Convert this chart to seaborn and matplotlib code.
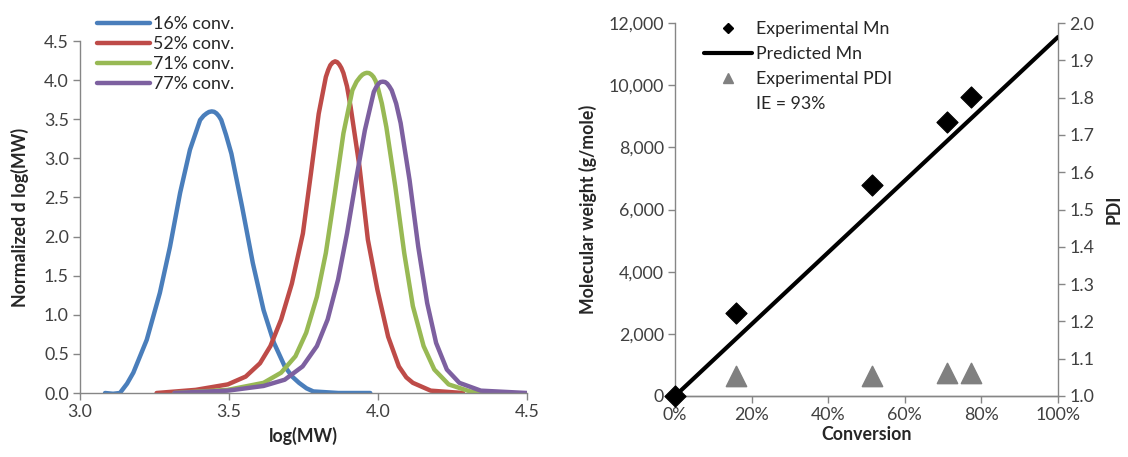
import seaborn as sns
import matplotlib.pyplot as plt
import pandas as pd
from matplotlib.ticker import MultipleLocator, PercentFormatter, FuncFormatter
from matplotlib.lines import Line2D

# GPC traces, values
blue_x = [3.084, 3.111, 3.134, 3.158, 3.179, 3.224, 3.268, 3.302, 3.336, 3.369, 3.403, 3.415, 3.425,
          3.433, 3.442, 3.450, 3.458, 3.466, 3.474, 3.490, 3.508, 3.544, 3.580, 3.616, 3.651,
          3.687, 3.712, 3.735, 3.760, 3.783, 3.867, 3.974]
blue_y = [0.0, -0.01, 0.0, 0.12, 0.26, 0.68, 1.28, 1.87, 2.56, 3.11, 3.49, 3.545, 3.575,
          3.593, 3.60, 3.595, 3.575, 3.54, 3.49, 3.30, 3.06, 2.38, 1.66, 1.06, 0.64,
          0.34, 0.21, 0.13, 0.06, 0.02, 0.0, 0.0]

red_x = [3.257, 3.388, 3.496, 3.556, 3.604, 3.639, 3.675, 3.711, 3.748, 3.775, 3.801, 3.825, 3.833,
         3.840, 3.848, 3.856, 3.863, 3.870, 3.877, 3.884, 3.896, 3.908, 3.938, 3.966, 3.998,
         4.034, 4.070, 4.095, 4.117, 4.177, 4.285]
red_y = [0.0, 0.04, 0.11, 0.21, 0.38, 0.60, 0.94, 1.40, 2.04, 2.81, 3.57, 4.04, 4.13,
         4.19, 4.225, 4.24, 4.23, 4.20, 4.155, 4.09, 3.92, 3.66, 2.89, 1.96, 1.32,
         0.72, 0.34, 0.20, 0.13, 0.03, 0.0]

green_x = [3.317, 3.496, 3.616, 3.675, 3.723, 3.759, 3.795, 3.825, 3.855, 3.884, 3.914, 3.928, 3.940,
           3.948, 3.955, 3.962, 3.970, 3.978, 3.985, 3.992, 3.999, 4.013, 4.028, 4.058, 4.088,
           4.117, 4.153, 4.189, 4.237, 4.309, 4.404]
green_y = [0.0, 0.04, 0.13, 0.26, 0.47, 0.77, 1.23, 1.79, 2.55, 3.32, 3.87, 3.98, 4.04,
           4.07, 4.085, 4.093, 4.09, 4.07, 4.04, 3.99, 3.91, 3.70, 3.40, 2.64, 1.79,
           1.11, 0.60, 0.30, 0.11, 0.02, 0.0]

purple_x = [3.317, 3.496, 3.616, 3.687, 3.747, 3.795, 3.831, 3.866, 3.896, 3.926, 3.956, 3.986, 3.994,
            4.001, 4.008, 4.016, 4.024, 4.031, 4.038, 4.046, 4.061, 4.076, 4.106, 4.135, 4.165,
            4.195, 4.231, 4.273, 4.345, 4.500]
purple_y = [0.0, 0.03, 0.09, 0.17, 0.34, 0.60, 0.94, 1.45, 2.04, 2.72, 3.36, 3.85, 3.91,
            3.95, 3.975, 3.98, 3.975, 3.955, 3.92, 3.87, 3.70, 3.45, 2.72, 1.87, 1.15,
            0.64, 0.30, 0.13, 0.03, 0.0]

trace_labels = ["16% conv.", "52% conv.", "71% conv.", "77% conv."]
trace_colors = ["#4A7EBB", "#BE4B48", "#98B954", "#7D60A0"]

# Mn / PDI vs conversion
conv_mn = [0.0, 0.16, 0.515, 0.71, 0.772]
mn_exp = [0, 2680, 6800, 8800, 9620]
conv_pred = [0.0, 1.0]
mn_pred = [0, 11550]
conv_pdi = [0.16, 0.515, 0.71, 0.772]
pdi_exp = [1.053, 1.053, 1.062, 1.062]

sns.set_style("white")
plt.rcParams['font.family'] = ['Lato', 'DejaVu Sans']

FS = 12.8
tick_col = "#404040"
spine_col = "#868686"

fig = plt.figure(figsize=(11.28, 4.57), dpi=100)

# ---- left panel: distributions
ax1 = fig.add_axes([80 / 1128, 64 / 457, 447 / 1128, 352 / 457])
traces = [(blue_x, blue_y), (red_x, red_y), (green_x, green_y), (purple_x, purple_y)]
for (xs, ys), lab, col in zip(traces, trace_labels, trace_colors):
    df = pd.DataFrame({"x": xs, "y": ys})
    sns.lineplot(data=df, x="x", y="y", ax=ax1, color=col, lw=3.2, label=lab,
                 sort=False, solid_capstyle="round", solid_joinstyle="round")

ax1.set_xlim(3.0, 4.5)
ax1.set_ylim(0, 4.5)
ax1.xaxis.set_major_locator(MultipleLocator(0.5))
ax1.yaxis.set_major_locator(MultipleLocator(0.5))
ax1.xaxis.set_major_formatter(FuncFormatter(lambda v, p: f"{v:.1f}"))
ax1.yaxis.set_major_formatter(FuncFormatter(lambda v, p: f"{v:.1f}"))
ax1.set_xlabel("log(MW)", fontweight="bold", fontsize=FS, labelpad=5)
ax1.set_ylabel("Normalized d log(MW)", fontweight="bold", fontsize=FS, labelpad=11)
ax1.legend(loc="upper left", bbox_to_anchor=(97 / 1128, 1 - 16 / 457),
           bbox_transform=fig.transFigure, frameon=False, borderpad=0,
           borderaxespad=0, handlelength=3.0, handletextpad=0.15,
           labelspacing=0.22, fontsize=FS)

# ---- right panel: Mn and PDI
ax2 = fig.add_axes([675 / 1128, 61 / 457, 383 / 1128, 373 / 457])
ax3 = ax2.twinx()

sns.lineplot(x=conv_pred, y=mn_pred, ax=ax2, color="black", lw=3.0, zorder=2, legend=False)
sns.scatterplot(x=conv_mn, y=mn_exp, ax=ax2, marker="D", s=115, color="black",
                edgecolor="black", zorder=3, clip_on=False, legend=False)
sns.scatterplot(x=conv_pdi, y=pdi_exp, ax=ax3, marker="^", s=210, color="#808080",
                edgecolor="#808080", zorder=3, legend=False)

ax2.set_xlim(0, 1.0)
ax2.set_ylim(0, 12000)
ax3.set_ylim(1.0, 2.0)
ax2.xaxis.set_major_locator(MultipleLocator(0.2))
ax2.xaxis.set_major_formatter(PercentFormatter(1.0, decimals=0))
ax2.yaxis.set_major_locator(MultipleLocator(2000))
ax2.yaxis.set_major_formatter(FuncFormatter(lambda v, p: f"{int(v):,}"))
ax3.yaxis.set_major_locator(MultipleLocator(0.1))
ax3.yaxis.set_major_formatter(FuncFormatter(lambda v, p: f"{v:.1f}"))
ax2.set_xlabel("Conversion", fontweight="bold", fontsize=FS, labelpad=2)
ax2.set_ylabel("Molecular weight (g/mole)", fontweight="bold", fontsize=FS, labelpad=8)
ax3.set_ylabel("PDI", fontweight="bold", fontsize=FS, labelpad=8)

handles = [
    Line2D([], [], ls="none", marker="D", ms=5, color="black"),
    Line2D([], [], color="black", lw=3.0),
    Line2D([], [], ls="none", marker="^", ms=6.5, color="#808080"),
    Line2D([], [], color="none"),
]
labels = ["Experimental Mn", "Predicted Mn", "Experimental PDI", "IE = 93%"]
ax3.legend(handles, labels, loc="upper left", bbox_to_anchor=(704 / 1128, 1 - 21 / 457),
           bbox_transform=fig.transFigure, frameon=False, borderpad=0,
           borderaxespad=0, handlelength=2.7, handletextpad=0.25,
           labelspacing=0.5, fontsize=FS)
ax3.set_zorder(ax2.get_zorder() - 1)
ax2.patch.set_visible(False)
ax3.legend_.set_zorder(10)

# spines and ticks
for ax in (ax1, ax2, ax3):
    ax.tick_params(colors=tick_col, labelsize=FS, length=5, width=1, direction="out",
                   color=spine_col, pad=3)
    for s in ax.spines.values():
        s.set_color(spine_col)
        s.set_linewidth(1)
    ax.spines["top"].set_visible(False)
ax1.spines["right"].set_visible(False)
ax2.spines["right"].set_visible(False)
ax3.spines["left"].set_visible(False)
ax1.tick_params(left=True, bottom=True)
ax2.tick_params(left=True, bottom=True)
ax3.tick_params(right=True)

fig.savefig("out.png", dpi=100)
